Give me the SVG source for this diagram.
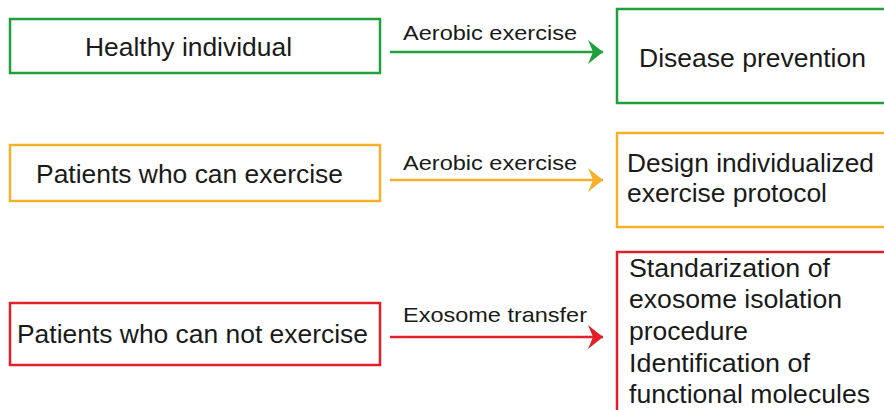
<svg xmlns="http://www.w3.org/2000/svg" width="884" height="410" viewBox="0 0 884 410">
<style>
text{font-family:"Liberation Sans",Arial,sans-serif;fill:#1a1a1a}
.n{font-size:25px}
.l{font-size:21px}
.box{fill:#fff;stroke-width:2.5}
.g{stroke:#20a03c}.o{stroke:#f5b12a}.r{stroke:#e2202a}
.line{fill:none;stroke-width:2.5}
</style>
<defs>
<marker id="ag" markerUnits="userSpaceOnUse" markerWidth="20" markerHeight="30" refX="15" refY="12" orient="auto" viewBox="0 0 20 24"><path d="M0,0 L15,12 L0,24 L5,12 Z" fill="#20a03c"/></marker>
<marker id="ao" markerUnits="userSpaceOnUse" markerWidth="20" markerHeight="30" refX="15" refY="12" orient="auto" viewBox="0 0 20 24"><path d="M0,0 L15,12 L0,24 L5,12 Z" fill="#f5b12a"/></marker>
<marker id="ar" markerUnits="userSpaceOnUse" markerWidth="20" markerHeight="30" refX="15" refY="12" orient="auto" viewBox="0 0 20 24"><path d="M0,0 L15,12 L0,24 L5,12 Z" fill="#e2202a"/></marker>
</defs>
<rect width="884" height="410" fill="#fff"/>
<g id="healthy">
<rect class="box g" x="10" y="19" width="370" height="54"/>
<text class="n" x="85" y="56" textLength="207" lengthAdjust="spacingAndGlyphs">Healthy individual</text>
</g>
<g id="prevention">
<rect class="box g" x="617" y="9" width="280" height="94"/>
<text class="n" x="639" y="67" textLength="227" lengthAdjust="spacingAndGlyphs">Disease prevention</text>
</g>
<g id="can">
<rect class="box o" x="10" y="145" width="370" height="56"/>
<text class="n" x="36" y="183" textLength="307" lengthAdjust="spacingAndGlyphs">Patients who can exercise</text>
</g>
<g id="design">
<rect class="box o" x="617" y="133" width="280" height="94"/>
<text class="n" x="627" y="172" textLength="247" lengthAdjust="spacingAndGlyphs">Design individualized</text>
<text class="n" x="627" y="202" textLength="200" lengthAdjust="spacingAndGlyphs">exercise protocol</text>
</g>
<g id="cannot">
<rect class="box r" x="10" y="303" width="370" height="62"/>
<text class="n" x="17" y="343" textLength="351" lengthAdjust="spacingAndGlyphs">Patients who can not exercise</text>
</g>
<g id="standard">
<rect class="box r" x="617" y="252" width="280" height="170"/>
<text class="n" x="629" y="277" textLength="201" lengthAdjust="spacingAndGlyphs">Standarization of</text>
<text class="n" x="629" y="308" textLength="213" lengthAdjust="spacingAndGlyphs">exosome isolation</text>
<text class="n" x="629" y="340" textLength="119" lengthAdjust="spacingAndGlyphs">procedure</text>
<text class="n" x="629" y="372" textLength="181" lengthAdjust="spacingAndGlyphs">Identification of</text>
<text class="n" x="629" y="403" textLength="241" lengthAdjust="spacingAndGlyphs">functional molecules</text>
</g>
<g id="connectors">
<line class="line g" x1="390" y1="52" x2="603" y2="52" marker-end="url(#ag)"/>
<text class="l" x="403" y="40" textLength="174" lengthAdjust="spacingAndGlyphs">Aerobic exercise</text>
<line class="line o" x1="390" y1="180" x2="603" y2="180" marker-end="url(#ao)"/>
<text class="l" x="403" y="170" textLength="174" lengthAdjust="spacingAndGlyphs">Aerobic exercise</text>
<line class="line r" x1="390" y1="337" x2="603" y2="337" marker-end="url(#ar)"/>
<text class="l" x="403" y="322" textLength="184" lengthAdjust="spacingAndGlyphs">Exosome transfer</text>
</g>
</svg>
